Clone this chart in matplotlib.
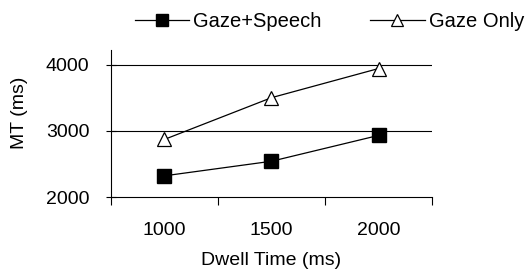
import matplotlib
matplotlib.use("Agg")
import matplotlib.pyplot as plt

dwell = ["1000", "1500", "2000"]
gaze_speech = [2320, 2540, 2930]
gaze_only = [2870, 3500, 3940]

plt.rcParams['font.family'] = ['Liberation Sans', 'DejaVu Sans']

fig = plt.figure(figsize=(5.28, 2.74), dpi=100)
ax = fig.add_axes([0.2102, 0.281, 0.608, 0.5365])

x = list(range(len(dwell)))
ax.plot(x, gaze_speech, color='black', lw=0.9, marker='s', ms=9.5,
        mfc='black', mec='black', label='Gaze+Speech')
ax.plot(x, gaze_only, color='black', lw=0.9, marker='^', ms=10,
        mfc='white', mec='black', mew=0.9, label='Gaze Only')

ax.set_xlim(-0.5, 2.5)
ax.set_ylim(2000, 4220)
ax.set_yticks([2000, 3000, 4000])
ax.set_xticks(x)
ax.set_xticklabels(dwell)
ax.set_xticks([-0.5, 0.5, 1.5, 2.5], minor=True)
ax.tick_params(axis='x', which='major', length=0, pad=18, labelsize=14)
ax.tick_params(axis='x', which='minor', length=6, width=0.8, direction='out')
ax.tick_params(axis='y', length=7, width=0.8, direction='inout', pad=12, labelsize=14)

for v in [3000, 4000]:
    ax.axhline(v, color='black', lw=0.8, zorder=0)

for s in ['top', 'right']:
    ax.spines[s].set_visible(False)
ax.spines['left'].set_linewidth(0.8)
ax.spines['bottom'].set_linewidth(0.8)

ax.set_xlabel('Dwell Time (ms)', fontsize=14, labelpad=9)
ax.set_ylabel('MT (ms)', fontsize=14)
ax.yaxis.set_label_coords(-0.258, 0.57)

fig.legend(loc='center', bbox_to_anchor=(0.624, 0.92), ncol=2, frameon=False,
           fontsize=14.5, handlelength=2.7, handletextpad=0.2,
           columnspacing=2.4, numpoints=1, markerscale=0.85)

fig.savefig('out.png', dpi=100)
